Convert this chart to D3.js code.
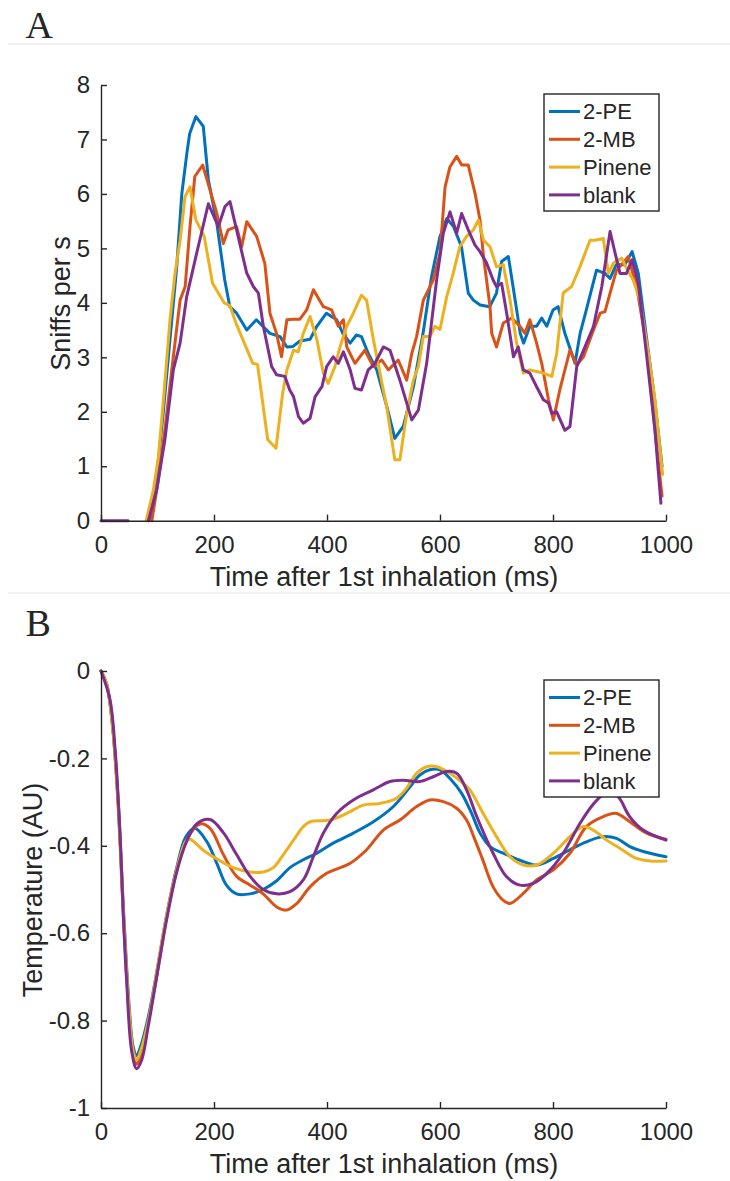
<!DOCTYPE html>
<html>
<head>
<meta charset="utf-8">
<script src="https://cdn.jsdelivr.net/npm/d3@7/dist/d3.min.js"></script>
<style>
  html, body { margin: 0; padding: 0; background: #fff; }
  svg { display: block; }
  text { font-family: "Liberation Sans", Arial, sans-serif; fill: #262626; }
</style>
</head>
<body>
<svg id="chart" width="730" height="1181"></svg>
<script>
// ---------- DATA ----------
const seriesNames = ["2-PE", "2-MB", "Pinene", "blank"];
const seriesColors = ["#0072BD", "#D95319", "#EDB120", "#7E2F8E"];

const xTicks = [0, 200, 400, 600, 800, 1000];
const yTicksA = [0, 1, 2, 3, 4, 5, 6, 7, 8];
const yTicksB = [-1, -0.8, -0.6, -0.4, -0.2, 0];

// Panel A: sniff frequency [time ms, sniffs per s]
const sniffPE = [[85,0],[98,0.75],[110,1.97],[122,3.32],[134,4.66],[143,6.0],[152,6.75],[157,7.11],[168,7.42],[181,7.24],[190,6.26],[205,5.46],[219,4.42],[228,3.93],[240,3.81],[258,3.5],[275,3.69],[299,3.44],[317,3.38],[329,3.19],[340,3.2],[352,3.3],[370,3.33],[382,3.57],[399,3.81],[417,3.69],[428,3.44],[441,3.26],[452,3.41],[461,3.38],[473,3.07],[488,2.77],[506,2.09],[520,1.51],[535,1.73],[553,2.46],[570,3.44],[585,4.48],[600,5.22],[612,5.55],[624,5.40],[638,5.03],[650,4.18],[659,4.05],[671,3.96],[688,3.93],[700,4.18],[709,4.76],[721,4.85],[733,4.05],[742,3.44],[748,3.26],[759,3.57],[771,3.57],[780,3.72],[789,3.57],[800,3.87],[809,3.93],[821,3.44],[839,2.89],[848,3.44],[859,3.87],[877,4.60],[892,4.54],[901,4.45],[912,4.70],[927,4.70],[940,4.94],[951,4.54],[966,3.32],[980,2.22],[993,1.0]];
const sniffMB = [[90,0],[101.5,0.75],[113,1.66],[128,3.01],[140,4.05],[149,4.30],[157.5,5.40],[166,6.32],[180,6.53],[193,6.07],[205,5.64],[216.5,5.09],[225,5.34],[240,5.40],[249,5.03],[258,5.49],[275.5,5.22],[290,4.72],[299,3.81],[310.6,3.44],[319.5,3.01],[329,3.69],[341,3.7],[352,3.7],[364,3.87],[376,4.24],[393.5,3.93],[408,3.87],[420,3.57],[429,3.69],[435,3.19],[449.5,2.89],[467,3.13],[482,2.83],[497,2.95],[508.6,2.77],[526,2.95],[541,2.58],[550,3.07],[558.6,3.38],[570.5,4.05],[588,4.42],[600,4.91],[609,6.13],[617.7,6.50],[629.5,6.69],[638.3,6.53],[650,6.53],[662,6.01],[670.8,5.52],[677,4.85],[688.5,3.93],[691.5,3.44],[700,3.19],[712,3.63],[727,3.72],[741.6,3.57],[750.4,3.44],[759,3.69],[771,3.26],[780,2.89],[792,2.22],[800.6,1.85],[812,2.40],[830,3.13],[842,2.86],[854,3.01],[871.7,3.50],[883.5,3.81],[892,3.84],[901,4.18],[912.4,4.60],[924,4.73],[933,4.85],[948,4.30],[966,3.19],[980.5,1.66],[993,0.45]];
const sniffPinene = [[80,0],[92.6,0.56],[101.5,1.16],[110.4,2.21],[122,3.68],[131,4.54],[140,5.15],[148.7,5.95],[157.5,6.13],[168,5.52],[182.7,5.22],[197.4,4.36],[218,4.0],[228,3.95],[240,3.6],[268.6,2.89],[277,2.87],[295,1.49],[309.7,1.33],[321.5,2.34],[329,2.77],[340.7,3.13],[349,3.1],[358,3.44],[370,3.75],[382,3.33],[393.5,2.71],[402,2.52],[414,2.83],[423,3.19],[434.8,3.57],[446.6,3.81],[461,4.14],[470,4.05],[482,3.33],[493.8,2.71],[505.6,2.09],[520,1.12],[529,1.12],[541,1.97],[552.8,2.58],[561.7,2.83],[570.5,3.38],[582,3.38],[591,3.57],[600,3.51],[611.8,4.11],[623.6,4.55],[635,5.03],[647,5.22],[659,5.34],[668,5.52],[677,5.15],[688.5,5.03],[700,4.66],[712,4.70],[724,4.05],[735.6,3.26],[747.5,2.71],[759,2.77],[771,2.74],[783,2.71],[798,2.65],[806.5,3.07],[818,4.18],[833,4.30],[847.6,4.66],[865.5,5.15],[874,5.15],[889,5.18],[898,4.54],[907,4.73],[921.5,4.82],[930,4.64],[942,4.42],[954,4.05],[968.8,3.07],[980.5,2.22],[994,0.85]];
const sniffBlank = [[0,0],[48,0],[60,null],[84,0],[98.5,0.56],[113,1.48],[128,2.77],[140,3.26],[151.6,4.11],[169.3,4.91],[190,5.82],[207.7,5.40],[219.5,5.77],[228.3,5.86],[240,5.34],[257.8,4.55],[269.6,4.30],[278.5,4.18],[287.3,3.57],[302,2.83],[310.6,2.68],[325.4,2.65],[334,2.4],[340.7,2.28],[349.6,1.91],[358,1.79],[370,1.88],[379,2.28],[391,2.46],[399.4,2.83],[411,3.01],[420,2.89],[429,3.10],[441,2.77],[449.5,2.43],[461,2.40],[473,2.77],[485,2.89],[499.7,3.19],[511.5,3.13],[529,2.58],[550,1.85],[561.7,2.03],[576.4,2.89],[594,4.42],[605.9,5.28],[617.7,5.67],[629.5,5.28],[638.3,5.64],[650,5.34],[662,5.06],[670.8,4.94],[682.5,4.73],[694,4.42],[700,4.30],[709,4.36],[718,3.81],[730,3.01],[738.5,3.19],[747.5,2.77],[759,2.71],[771,2.46],[783,2.22],[792,2.16],[798,1.97],[806.5,2.00],[821,1.66],[830,1.73],[842,2.83],[854,3.13],[871.7,3.57],[886.4,4.30],[901,5.31],[910,4.91],[918.6,4.54],[930,4.54],[940,4.79],[951,4.36],[966,3.01],[980.5,1.66],[991,0.32]];

// Panel B: temperature [time ms, AU]
const tempPE = [[0,0],[10,-0.03],[20,-0.12],[30,-0.29],[40,-0.55],[50,-0.77],[57,-0.86],[63,-0.88],[70,-0.86],[84,-0.79],[98.5,-0.69],[116,-0.56],[134,-0.45],[150,-0.38],[166,-0.36],[187,-0.39],[205,-0.44],[222,-0.49],[240,-0.51],[264,-0.51],[287,-0.50],[311,-0.48],[334.5,-0.45],[358,-0.432],[382,-0.417],[411,-0.394],[446.6,-0.371],[482,-0.345],[517.5,-0.310],[547,-0.265],[564.4,-0.238],[582,-0.226],[600,-0.226],[617.7,-0.246],[638.3,-0.280],[656,-0.326],[671,-0.371],[688.5,-0.402],[712,-0.417],[741.6,-0.433],[771,-0.444],[800.6,-0.429],[830,-0.409],[859,-0.391],[889,-0.379],[912.4,-0.383],[936,-0.402],[959.6,-0.413],[1000,-0.425]];
const tempMB = [[0,0],[10,-0.03],[20,-0.12],[30,-0.30],[40,-0.57],[50,-0.79],[57,-0.88],[63,-0.90],[70,-0.88],[84,-0.80],[98.5,-0.70],[116,-0.565],[134,-0.455],[152,-0.385],[175,-0.35],[193,-0.36],[216.5,-0.42],[240,-0.47],[264,-0.49],[287,-0.51],[311,-0.54],[329,-0.547],[346.5,-0.532],[370,-0.494],[399.4,-0.463],[441,-0.440],[470,-0.409],[499.7,-0.364],[529,-0.341],[558.6,-0.310],[582,-0.295],[606,-0.299],[629.5,-0.314],[647,-0.341],[660,-0.38],[675,-0.43],[694,-0.494],[712,-0.525],[724,-0.532],[747.5,-0.509],[771,-0.478],[800.6,-0.455],[830,-0.417],[859,-0.356],[889,-0.333],[912.4,-0.326],[936,-0.345],[965.5,-0.371],[1000,-0.385]];
const tempPinene = [[0,0],[10,-0.03],[20,-0.12],[30,-0.29],[40,-0.56],[50,-0.78],[57,-0.87],[63,-0.89],[70,-0.87],[84,-0.80],[98.5,-0.69],[116,-0.56],[134,-0.455],[150,-0.39],[157.5,-0.385],[181,-0.41],[205,-0.43],[234,-0.45],[264,-0.46],[287,-0.46],[305,-0.45],[322.7,-0.42],[340.7,-0.387],[358,-0.356],[370,-0.345],[405,-0.341],[434.8,-0.326],[464.3,-0.307],[493.8,-0.303],[523.3,-0.291],[541,-0.268],[558.6,-0.234],[576.4,-0.219],[594,-0.219],[617.7,-0.234],[641,-0.257],[653,-0.272],[676.5,-0.326],[700,-0.379],[724,-0.425],[747.5,-0.444],[771,-0.444],[800.6,-0.417],[830,-0.379],[853.5,-0.356],[871.2,-0.364],[895,-0.387],[918.6,-0.406],[948,-0.429],[972,-0.435],[1000,-0.435]];
const tempBlank = [[0,0],[16,-0.066],[25,-0.18],[33.6,-0.37],[39.5,-0.56],[45.4,-0.71],[54.3,-0.87],[63,-0.91],[72,-0.89],[84,-0.81],[98.5,-0.70],[116,-0.57],[134,-0.46],[151.6,-0.39],[169.3,-0.35],[193,-0.34],[216.5,-0.37],[240,-0.42],[264,-0.47],[287,-0.50],[311,-0.51],[334.5,-0.505],[358,-0.478],[375.8,-0.425],[393.5,-0.371],[417,-0.326],[446.6,-0.295],[482,-0.272],[511.5,-0.253],[535,-0.250],[564.4,-0.253],[588,-0.242],[611.8,-0.230],[629.5,-0.234],[647,-0.272],[665,-0.333],[694,-0.417],[718,-0.471],[741.6,-0.490],[765,-0.486],[789,-0.463],[818,-0.417],[847.6,-0.349],[871.2,-0.305],[889,-0.282],[903,-0.275],[918,-0.292],[935,-0.332],[959.6,-0.364],[1000,-0.387]];

const sniffSeries = [sniffPE, sniffMB, sniffPinene, sniffBlank];
const tempSeries = [tempPE, tempMB, tempPinene, tempBlank];

// ---------- DRAW ----------
const svg = d3.select("#chart");
const axisColor = "#262626";

// separators
[44, 593].forEach(y => {
  svg.append("line").attr("x1", 8).attr("x2", 730).attr("y1", y).attr("y2", y)
    .attr("stroke", "#e6e6e6").attr("stroke-width", 1);
});

function panel(opts) {
  const x = d3.scaleLinear().domain([0, 1000]).range([101, 666]);
  const y = d3.scaleLinear().domain(opts.yDomain).range([opts.yBottom, opts.yTop]);
  const g = svg.append("g");

  // lines
  const line = d3.line()
    .defined(d => d[1] !== null)
    .x(d => x(d[0])).y(d => y(d[1]))
    .curve(opts.curve);
  opts.series.forEach((s, i) => {
    g.append("path").datum(s)
      .attr("fill", "none")
      .attr("stroke", seriesColors[i])
      .attr("stroke-width", 3)
      .attr("stroke-linejoin", "round")
      .attr("stroke-linecap", "round")
      .attr("d", line);
  });

  // axes
  const xAxis = g.append("g").attr("transform", `translate(0,${opts.yBottom})`)
    .call(d3.axisBottom(x).tickValues(xTicks).tickSizeInner(-6).tickSizeOuter(0).tickPadding(15).tickFormat(d => String(d)));
  const yAxis = g.append("g").attr("transform", `translate(101,0)`)
    .call(d3.axisLeft(y).tickValues(opts.yTicks).tickSizeInner(-6).tickSizeOuter(0).tickPadding(11).tickFormat(d => String(d)));
  [xAxis, yAxis].forEach(a => {
    a.select(".domain").attr("stroke", axisColor).attr("stroke-width", 1.4);
    a.selectAll(".tick line").attr("stroke", axisColor).attr("stroke-width", 1.4);
    a.selectAll(".tick text").attr("font-size", "24px").attr("fill", axisColor)
      .style("font-family", "'Liberation Sans', Arial, sans-serif");
  });

  // axis labels
  g.append("text").attr("x", 384).attr("y", opts.yBottom + 65)
    .attr("text-anchor", "middle").attr("font-size", "27px")
    .text("Time after 1st inhalation (ms)");
  g.append("text")
    .attr("transform", `translate(${opts.yLabelX},${opts.yLabelY}) rotate(-90)`)
    .attr("text-anchor", "middle").attr("font-size", "27px")
    .text(opts.yLabel);

  // panel letter
  svg.append("text").attr("x", 25.5).attr("y", opts.letterY)
    .attr("font-size", "38px")
    .style("font-family", "'Liberation Serif', 'Times New Roman', serif")
    .attr("fill", "#000")
    .text(opts.letter);

  // legend
  const lg = g.append("g").attr("transform", `translate(544,${opts.legendTop})`);
  lg.append("rect").attr("x", 0).attr("y", 0).attr("width", 115).attr("height", 117)
    .attr("fill", "#fff").attr("stroke", axisColor).attr("stroke-width", 1.4);
  seriesNames.forEach((n, i) => {
    const cy = 17.5 + i * 27.8;
    lg.append("line").attr("x1", 5).attr("x2", 36).attr("y1", cy).attr("y2", cy)
      .attr("stroke", seriesColors[i]).attr("stroke-width", 3);
    lg.append("text").attr("x", 39).attr("y", cy).attr("dy", "0.36em")
      .attr("font-size", "22px").attr("fill", "#000").text(n);
  });
}

panel({
  series: sniffSeries, yDomain: [0, 8], yBottom: 520.7, yTop: 85, yTicks: yTicksA,
  curve: d3.curveLinear,
  yLabel: "Sniffs per s", yLabelX: 69.5, yLabelY: 303.5,
  letter: "A", letterY: 38, legendTop: 94
});
panel({
  series: tempSeries, yDomain: [-1, 0], yBottom: 1108, yTop: 671, yTicks: yTicksB,
  curve: d3.curveCatmullRom.alpha(0.5),
  yLabel: "Temperature (AU)", yLabelX: 42, yLabelY: 890,
  letter: "B", letterY: 636, legendTop: 680
});
</script>
</body>
</html>
